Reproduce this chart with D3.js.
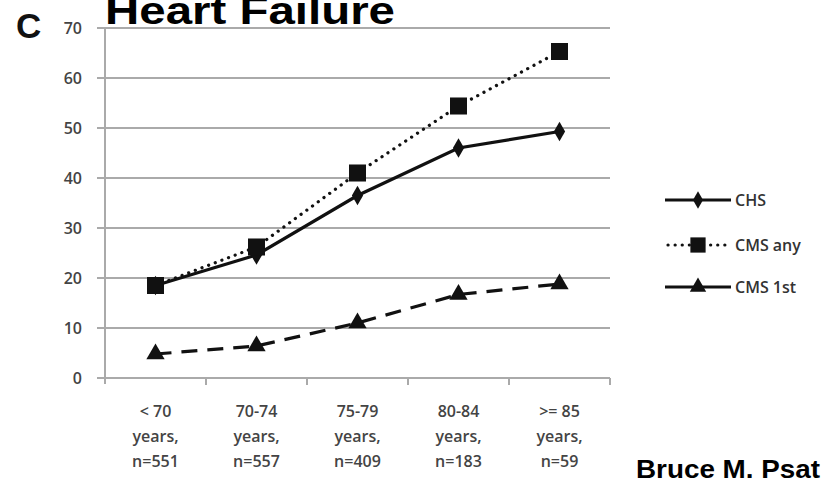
<!DOCTYPE html>
<html>
<head>
<meta charset="utf-8">
<script src="https://cdn.jsdelivr.net/npm/d3@7"></script>
<style>
  body { margin: 0; background: #fff; }
  svg { display: block; }
</style>
</head>
<body>
<svg width="823" height="480"></svg>
<script>
// data
var categories = ["< 70|years,|n=551", "70-74|years,|n=557", "75-79|years,|n=409", "80-84|years,|n=183", ">= 85|years,|n=59"];
var chs = [18.5, 24.6, 36.5, 46, 49.3];
var cmsAny = [18.5, 26.2, 41, 54.4, 65.3];
var cms1st = [4.8, 6.4, 11, 16.7, 18.8];
var yTicks = [0, 10, 20, 30, 40, 50, 60, 70];

var svg = d3.select("svg");

var x = d3.scaleBand().domain(categories).range([105, 610]);
var y = d3.scaleLinear().domain([0, 70]).range([378, 28]);

var labelFont = "Open Sans, sans-serif";
var boldFont = "Liberation Sans, Arial, sans-serif";

var series = [
  { name: "CHS", values: chs, dash: null, marker: d3.symbolDiamond, size: 110 },
  { name: "CMS any", values: cmsAny, dash: "0.1,7", marker: d3.symbolSquare, size: 290 },
  { name: "CMS 1st", values: cms1st, dash: "16,10", marker: d3.symbolTriangle, size: 145 }
];

// gridlines
svg.append("g").selectAll("line")
  .data(yTicks).enter().append("line")
  .attr("x1", 97).attr("x2", 610)
  .attr("y1", function(d) { return y(d); })
  .attr("y2", function(d) { return y(d); })
  .attr("stroke", "#aaa").attr("stroke-width", 2);

// y axis line
svg.append("line")
  .attr("x1", 105).attr("x2", 105)
  .attr("y1", y(70)).attr("y2", y(0) + 6)
  .attr("stroke", "#aaa").attr("stroke-width", 2);

// bottom tick marks at band edges
var edges = categories.map(function(c) { return x(c); }).concat([x.range()[1]]);
svg.append("g").selectAll("line")
  .data(edges.slice(1)).enter().append("line")
  .attr("x1", function(d) { return d; }).attr("x2", function(d) { return d; })
  .attr("y1", y(0)).attr("y2", y(0) + 7)
  .attr("stroke", "#aaa").attr("stroke-width", 2);

// y tick labels
svg.append("g").selectAll("text")
  .data(yTicks).enter().append("text")
  .attr("x", 82).attr("y", function(d) { return y(d) + 6; })
  .attr("text-anchor", "end")
  .attr("font-family", labelFont)
  .attr("font-weight", 600)
  .attr("font-size", 16)
  .attr("fill", "#444")
  .text(function(d) { return d; });

// x tick labels, three lines each
var xl = svg.append("g").selectAll("text")
  .data(categories).enter().append("text")
  .attr("text-anchor", "middle")
  .attr("font-family", labelFont)
  .attr("font-weight", 600)
  .attr("font-size", 16)
  .attr("fill", "#444");
xl.each(function(c) {
  var t = d3.select(this);
  c.split("|").forEach(function(s, i) {
    t.append("tspan")
      .attr("x", x(c) + x.bandwidth() / 2)
      .attr("y", 417 + i * 25)
      .text(s);
  });
});

var line = d3.line()
  .x(function(d, i) { return x(categories[i]) + x.bandwidth() / 2; })
  .y(function(d) { return y(d); });

series.forEach(function(s) {
  svg.append("path")
    .datum(s.values)
    .attr("d", line)
    .attr("fill", "none")
    .attr("stroke", "#111")
    .attr("stroke-width", 3.2)
    .attr("stroke-linecap", s.dash === "0.1,7" ? "round" : "butt")
    .attr("stroke-dasharray", s.dash);
  svg.append("g").selectAll("path")
    .data(s.values).enter().append("path")
    .attr("transform", function(d, i) {
      return "translate(" + (x(categories[i]) + x.bandwidth() / 2) + "," + y(d) + ")";
    })
    .attr("d", d3.symbol().type(s.marker).size(s.size))
    .attr("fill", "#111");
});

// legend
var legendY = [200, 245, 287];
series.forEach(function(s, i) {
  var g = svg.append("g").attr("transform", "translate(0," + legendY[i] + ")");
  g.append("line")
    .attr("x1", s.dash === "0.1,7" ? 668 : 665).attr("x2", 731)
    .attr("stroke", "#111").attr("stroke-width", 3.2)
    .attr("stroke-linecap", s.dash === "0.1,7" ? "round" : "butt")
    .attr("stroke-dasharray", s.dash === "0.1,7" ? "0.1,7" : null);
  g.append("path")
    .attr("transform", "translate(698,0)")
    .attr("d", d3.symbol().type(s.marker).size(s.size * 0.8))
    .attr("fill", "#111");
  g.append("text")
    .attr("x", 735).attr("y", 6)
    .attr("font-family", labelFont)
    .attr("font-weight", 600)
    .attr("font-size", 16)
    .attr("fill", "#333")
    .text(s.name);
});

// panel letter, title and caption
svg.append("text")
  .attr("x", 16).attr("y", 38)
  .attr("font-family", boldFont)
  .attr("font-weight", "bold").attr("font-size", 35)
  .attr("fill", "#111")
  .text("C");

svg.append("text")
  .attr("x", 105).attr("y", 24)
  .attr("font-family", boldFont)
  .attr("font-weight", "bold").attr("font-size", 38)
  .attr("textLength", 290).attr("lengthAdjust", "spacingAndGlyphs")
  .attr("fill", "#000")
  .text("Heart Failure");

svg.append("text")
  .attr("x", 636).attr("y", 478)
  .attr("font-family", boldFont)
  .attr("font-weight", "bold").attr("font-size", 26)
  .attr("textLength", 184).attr("lengthAdjust", "spacingAndGlyphs")
  .attr("fill", "#000")
  .text("Bruce M. Psat");
</script>
</body>
</html>
